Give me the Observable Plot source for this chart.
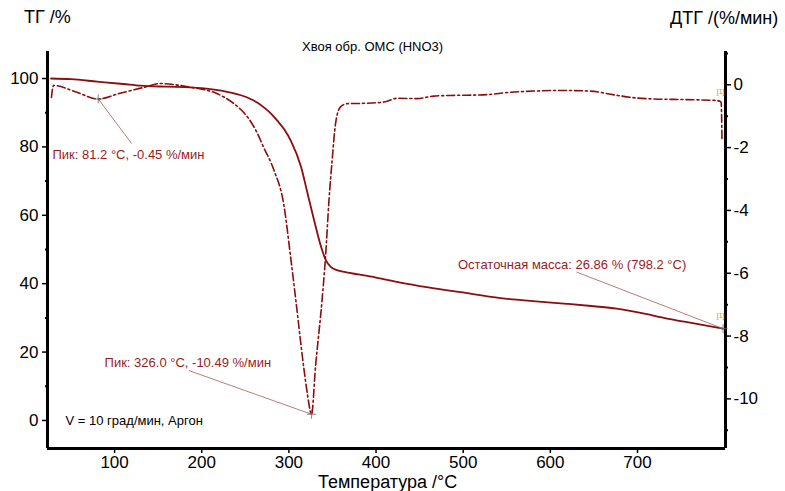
<!DOCTYPE html>
<html><head><meta charset="utf-8">
<script src="https://cdn.jsdelivr.net/npm/d3@7"></script>
<script src="https://cdn.jsdelivr.net/npm/@observablehq/plot@0.6"></script>
<style>
body{margin:0;background:#fff;}
#wrap{position:relative;width:785px;height:491px;font-family:"Liberation Sans",Arial,sans-serif;}
#wrap svg{position:absolute;left:0;top:0;}
.lbl{position:absolute;white-space:nowrap;color:#000;}
</style></head>
<body>
<div id="wrap">
  <div class="lbl" style="left:24px;top:7px;font-size:18px;">ТГ /%</div>
  <div class="lbl" style="left:670px;top:8px;font-size:18px;">ДТГ /(%/мин)</div>
  <div class="lbl" style="left:302px;top:39px;font-size:13px;">Хвоя обр. ОМС (HNO3)</div>
  <div class="lbl" style="left:318px;top:472px;font-size:18px;">Температура /°C</div>
</div>
<script>
// ---- data ----
const tgT = [27, 50, 80, 110, 130, 160, 187, 210, 233, 245, 256, 264, 272, 280, 287, 295, 302, 314, 321.5, 329, 337, 342.5, 348, 356, 366, 380, 400, 428, 460, 497, 543, 580, 619, 650, 676, 705, 734, 765, 798.2];
const tgV = [100.0, 99.8, 99.1, 98.4, 97.9, 97.6, 97.4, 96.9, 95.9, 95.1, 94.0, 92.9, 91.4, 89.6, 87.6, 85.0, 81.9, 74.1, 66.3, 58.5, 50.7, 46.8, 44.9, 43.9, 43.3, 42.7, 41.8, 40.3, 38.9, 37.5, 35.8, 34.9, 34.1, 33.4, 32.7, 31.4, 29.8, 28.4, 26.86];

const dtgT = [27.5, 30, 55, 81.2, 105, 134, 153, 170, 187, 200, 214, 226, 237, 246, 254, 263, 271, 283, 294, 302, 308, 317, 321, 326, 330.5, 338, 342, 346, 349.6, 353.5, 359, 367, 386, 409, 424, 447, 466, 485, 523, 554, 581, 611, 646, 673, 695, 718, 753, 791, 796, 797];
const dtgV = [-0.40, -0.02, -0.22, -0.45, -0.28, -0.08, 0.04, 0.0, -0.08, -0.14, -0.24, -0.40, -0.60, -0.82, -1.08, -1.50, -1.99, -2.73, -3.79, -5.49, -6.87, -8.99, -9.8, -10.49, -8.99, -6.87, -5.49, -3.68, -2.41, -1.24, -0.71, -0.60, -0.59, -0.55, -0.43, -0.44, -0.36, -0.34, -0.32, -0.24, -0.20, -0.18, -0.20, -0.32, -0.41, -0.45, -0.47, -0.50, -0.55, -1.78];

const xTicks = [100, 200, 300, 400, 500, 600, 700];
const xMinor = d3.range(40, 800, 20).filter(d => d % 100 !== 0);
const tgTicks = [0, 20, 40, 60, 80, 100];
const tgMinor = [10, 30, 50, 70, 90];
const dtgTicks = [-10, -8, -6, -4, -2, 0];
const dtgMinor = [-11, -9, -7, -5, -3, -1, 1];

// annotations (data units)
const peakT = [81.2, 326.0];
const peakV = [-0.45, -10.49];
const peakText = ["Пик: 81.2 °C, -0.45 %/мин", "Пик: 326.0 °C, -10.49 %/мин"];
const peakLabelT = [28.7, 88.5];
const peakLabelV = [-2.22, -8.84];
const peakLeadT = [119.5, 185.4];
const peakLeadV = [-1.87, -9.10];

const resT = [798.2], resV = [26.86];
const resText = ["Остаточная масса: 26.86 % (798.2 °C)"];
const resLabelT = [494], resLabelV = [45.6];
const resLeadT = [630], resLeadV = [43.4];

const condText = ["V = 10 град/мин, Аргон"];
const condT = [43.7], condV = [-0.2];

const xDomain = [23, 801];
const tgDomain = [-8.2, 107.9];
const dtgDomain = [-11.58, 1.06];

const lineColor = "#8b0d0d";
const annColor = "#9b1c1c";
const leadColor = "#a65a5a";

const W = 785, H = 491;
const M = {marginTop: 51, marginLeft: 47, marginRight: 60, marginBottom: 43};
const font = {fontFamily: "'Liberation Sans', Arial, sans-serif", background: "transparent", overflow: "visible"};

const tg = tgT.map((t, i) => ({t, v: tgV[i]}));
const dtg = dtgT.map((t, i) => ({t, v: dtgV[i]}));

const p1 = Plot.plot({
  width: W, height: H, ...M,
  style: {...font, fontSize: "17px"},
  x: {domain: xDomain},
  y: {domain: tgDomain},
  marks: [
    Plot.axisX({ticks: xTicks, tickSize: 5, tickPadding: 2, label: null, fontSize: 17, strokeWidth: 1.5}),
    Plot.axisX({ticks: xMinor, tickSize: 2, tickFormat: () => "", label: null, strokeWidth: 2}),
    Plot.axisY({ticks: tgTicks, tickSize: 5, tickPadding: 4, label: null, fontSize: 17, strokeWidth: 1.5}),
    Plot.axisY({ticks: tgMinor, tickSize: 2, tickFormat: () => "", label: null, strokeWidth: 2}),
    Plot.ruleX([xDomain[0]], {stroke: "#000", strokeWidth: 3}),
    Plot.ruleY([tgDomain[0]], {stroke: "#000", strokeWidth: 3}),
    Plot.ruleX([xDomain[1]], {stroke: "#000", strokeWidth: 3}),
    Plot.line(tg, {x: "t", y: "v", stroke: lineColor, strokeWidth: 1.8, curve: "monotone-x"}),
    Plot.link(resT, {x1: (d, i) => resLeadT[i], y1: (d, i) => resLeadV[i], x2: (d, i) => resT[i], y2: (d, i) => resV[i], stroke: leadColor, strokeWidth: 0.8}),
    Plot.dot(resT, {x: d => d, y: (d, i) => resV[i], symbol: "plus", r: 3, stroke: "#666", strokeWidth: 0.8}),
    Plot.text(resText, {x: (d, i) => resLabelT[i], y: (d, i) => resLabelV[i], text: d => d, textAnchor: "start", fill: annColor, fontSize: 13}),
    Plot.text(["[1]"], {x: [791], y: [30.6], text: d => d, fill: "#d0883a", fontSize: 7, textAnchor: "start"}),
    Plot.text(condText, {x: (d, i) => condT[i], y: (d, i) => condV[i], text: d => d, textAnchor: "start", fill: "#000", fontSize: 13})
  ]
});

const p2 = Plot.plot({
  width: W, height: H, ...M,
  style: {...font, fontSize: "17px"},
  x: {domain: xDomain, axis: null},
  y: {domain: dtgDomain},
  marks: [
    Plot.axisY({anchor: "right", ticks: dtgTicks, tickSize: 5, tickPadding: 3, label: null, fontSize: 17, strokeWidth: 1.5, tickFormat: d => String(d)}),
    Plot.axisY({anchor: "right", ticks: dtgMinor.filter(d => d > dtgDomain[0] && d < dtgDomain[1]), tickSize: 2, tickFormat: () => "", label: null, strokeWidth: 2}),
    Plot.line(dtg, {x: "t", y: "v", stroke: lineColor, strokeWidth: 1.6, strokeDasharray: "8,3,2,3", curve: "monotone-x"}),
    Plot.link(peakT, {x1: (d, i) => peakLeadT[i], y1: (d, i) => peakLeadV[i], x2: d => d, y2: (d, i) => peakV[i], stroke: leadColor, strokeWidth: 0.8}),
    Plot.dot(peakT, {x: d => d, y: (d, i) => peakV[i], symbol: "plus", r: 3, stroke: "#666", strokeWidth: 0.8}),
    Plot.text(peakText, {x: (d, i) => peakLabelT[i], y: (d, i) => peakLabelV[i], text: d => d, textAnchor: "start", fill: annColor, fontSize: 13}),
    Plot.text(["[1]"], {x: [791], y: [-0.22], text: d => d, fill: "#d0883a", fontSize: 7, textAnchor: "start"})
  ]
});

const wrap = document.getElementById("wrap");
wrap.insertBefore(p1, wrap.firstChild);
wrap.insertBefore(p2, p1.nextSibling);
</script>
</body></html>
